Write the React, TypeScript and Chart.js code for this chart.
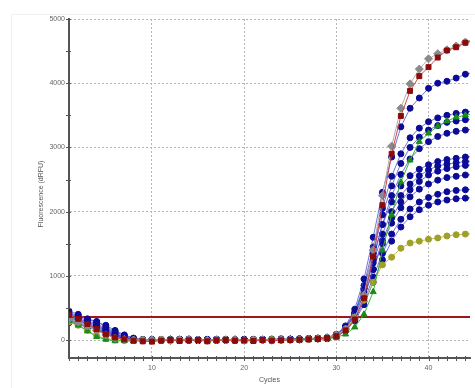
import React, { useEffect, useRef } from "react";
import { Chart, registerables } from "chart.js";

Chart.register(...registerables);

const cycles = [
  1, 2, 3, 4, 5, 6, 7, 8, 9, 10, 11, 12, 13, 14, 15, 16, 17, 18, 19, 20, 21, 22, 23,
  24, 25, 26, 27, 28, 29, 30, 31, 32, 33, 34, 35, 36, 37, 38, 39, 40, 41, 42, 43, 44, 45,
];

const xTicks = [10, 20, 30, 40];
const yTicks = [0, 1000, 2000, 3000, 4000, 5000];
const threshold = 360;

const grayWell = [
  330, 280, 220, 150, 80, 30, 10, 0, -5, 5, 0, -10, 5, 10, 0, -5, 5, 0, 10, -5, 0, 5, -5, 10, 0, 5, 15, 20,
  40, 80, 170, 340, 700, 1400, 2250, 3020, 3610, 3990, 4220, 4380, 4460, 4520, 4580, 4640, 4690,
];
const redWell = [
  390, 330, 250, 170, 90, 40, 10, -10, -20, -25, -10, 0, -15, -5, 0, -20, -5, 0, -10, -5, -15, 0, -10, -5, 0, 5, 10, 15,
  30, 60, 150, 320, 650, 1300, 2100, 2900, 3490, 3880, 4110, 4250, 4400, 4510, 4560, 4630, 4680,
];
const greenWell = [
  300, 230, 140, 50, 10, -15, -10, -20, 5, 0, -5, 15, 0, -10, 5, -15, 0, 10, -5, -20, 0, -5, 5, -10, 0, -5, 5, 10,
  20, 40, 90, 200, 400, 750, 1400, 1950, 2460, 2800, 3090, 3220, 3330, 3410, 3470, 3500, 3530,
];
const oliveWell = [
  280, 230, 150, 70, 20, 0, -10, 0, 5, -5, 10, 0, -5, 5, 0, -10, 0, 5, 0, -5, 5, 0, 10, 0, 5, 10, 15, 20,
  30, 70, 170, 360, 620, 900, 1170, 1290, 1430, 1510, 1540, 1570, 1590, 1620, 1640, 1650, 1660,
];
const blue1 = [
  450, 400, 320, 280, 230, 150, 80, 30, 10, 0, 5, -5, 10, 15, 0, -10, 5, 0, -5, 10, 0, 5, 15, 20, 10, 15, 25, 30,
  40, 90, 220, 480, 950, 1600, 2300, 2850, 3320, 3610, 3770, 3920, 4000, 4030, 4080, 4140, 4170,
];
const blue2 = [
  420, 380, 330, 290, 200, 130, 70, 20, 5, 10, 0, -5, 5, 0, -10, 5, 10, 0, 5, -5, 10, 0, 5, 10, 15, 20, 20, 25,
  35, 80, 200, 430, 850, 1450, 2050, 2550, 2900, 3150, 3300, 3400, 3460, 3500, 3530, 3550, 3570,
];
const blue3 = [
  400, 360, 300, 250, 180, 110, 50, 15, 0, -5, 10, 0, -10, 5, 0, 5, -5, 10, 0, 5, 0, 10, 5, 0, 15, 10, 20, 25,
  30, 75, 190, 400, 800, 1350, 1950, 2400, 2750, 3000, 3160, 3270, 3340, 3390, 3410, 3430, 3450,
];
const blue4 = [
  380, 340, 280, 230, 160, 100, 40, 10, -5, 0, 5, 10, 0, -5, 5, 0, 10, -5, 0, 5, 5, 0, 10, 5, 10, 15, 20, 25,
  30, 70, 170, 370, 720, 1250, 1800, 2250, 2580, 2820, 2980, 3090, 3170, 3220, 3250, 3270, 3290,
];
const blue5 = [
  360, 320, 270, 210, 150, 90, 40, 10, 0, 5, -5, 0, 10, 0, 5, -5, 0, 5, 10, 0, -5, 5, 0, 10, 5, 15, 20, 30,
  35, 80, 200, 420, 800, 1300, 1800, 2150, 2400, 2560, 2660, 2730, 2780, 2810, 2830, 2850, 2860,
];
const blue6 = [
  340, 300, 250, 200, 130, 80, 30, 5, 0, -5, 0, 5, -5, 10, 0, 5, 0, -5, 5, 10, 0, 5, 10, 5, 10, 15, 20, 25,
  30, 70, 180, 380, 720, 1200, 1650, 2000, 2250, 2430, 2560, 2650, 2710, 2740, 2760, 2780, 2790,
];
const blue7 = [
  320, 290, 240, 180, 120, 70, 25, 5, -5, 0, 10, 0, 5, -5, 0, 10, 5, 0, -5, 0, 5, 10, 0, 5, 10, 10, 15, 20,
  25, 60, 160, 350, 650, 1100, 1550, 1900, 2150, 2340, 2470, 2570, 2630, 2670, 2700, 2720, 2730,
];
const blue8 = [
  310, 270, 220, 170, 110, 60, 20, 0, 5, -5, 0, 5, 0, 10, -5, 0, 5, 10, 0, 5, -5, 0, 5, 10, 5, 15, 20, 25,
  30, 70, 170, 360, 680, 1100, 1500, 1820, 2060, 2230, 2350, 2430, 2490, 2530, 2550, 2570, 2580,
];
const blue9 = [
  290, 260, 210, 160, 100, 50, 15, 0, -5, 5, 0, -5, 10, 0, 5, 0, -5, 5, 0, 10, 5, 0, 5, 0, 10, 10, 15, 20,
  25, 60, 150, 320, 600, 980, 1350, 1650, 1880, 2040, 2150, 2220, 2270, 2310, 2330, 2340, 2350,
];
const blue10 = [
  270, 240, 200, 150, 90, 45, 10, -5, 0, 5, -5, 0, 5, 0, -10, 5, 0, 5, -5, 0, 10, 5, 0, 5, 5, 10, 15, 20,
  20, 55, 140, 300, 550, 900, 1250, 1540, 1760, 1920, 2030, 2100, 2150, 2180, 2200, 2210, 2220,
];

const blueWells = [blue1, blue2, blue3, blue4, blue5, blue6, blue7, blue8, blue9, blue10];

const toPoints = (vals: number[]) => cycles.map((c, i) => ({ x: c, y: vals[i] }));

const FONT = "'Liberation Sans', Arial, sans-serif";

const decor = {
  id: "decor",
  beforeDraw(chart: any) {
    const ctx = chart.ctx;
    ctx.save();
    ctx.fillStyle = "#ffffff";
    ctx.fillRect(0, 0, chart.width, chart.height);
    ctx.strokeStyle = "#f0f0f0";
    ctx.lineWidth = 1;
    ctx.strokeRect(11.5, 14.5, chart.width + 20, chart.height + 20);
    ctx.restore();
  },
  afterDraw(chart: any) {
    const { ctx, chartArea } = chart;
    const xs = chart.scales.x;
    const ys = chart.scales.y;
    ctx.save();
    ctx.strokeStyle = "#555";
    ctx.lineWidth = 1;
    ctx.beginPath();
    for (let c = 1; c <= 44; c++) {
      const px = Math.round(xs.getPixelForValue(c)) + 0.5;
      ctx.moveTo(px, chartArea.bottom - 2);
      ctx.lineTo(px, chartArea.bottom + 3);
    }
    for (let v = 0; v <= 5000; v += 500) {
      const py = Math.round(ys.getPixelForValue(v)) + 0.5;
      ctx.moveTo(chartArea.left - 3, py);
      ctx.lineTo(chartArea.left + 2, py);
    }
    ctx.stroke();

    ctx.fillStyle = "#555";
    ctx.font = `7px ${FONT}`;
    ctx.textAlign = "center";
    ctx.textBaseline = "middle";
    ctx.fillText("Cycles", (chartArea.left + chartArea.right) / 2, 380);
    ctx.translate(41, 194);
    ctx.rotate(-Math.PI / 2);
    ctx.fillText("Fluorescence (dRFU)", 0, 0);
    ctx.restore();
  },
};

export default function App() {
  const ref = useRef<HTMLCanvasElement | null>(null);

  useEffect(() => {
    if (!ref.current) return;
    const blueSets = blueWells.map((w, i) => ({
      label: `Blue ${i + 1}`,
      data: toPoints(w),
      borderColor: "rgba(70,70,200,0.75)",
      backgroundColor: "#0b0b96",
      pointBorderColor: "#0b0b96",
      pointBackgroundColor: "#0b0b96",
      pointStyle: "circle",
      pointRadius: 3,
      borderWidth: 1,
    }));
    const chart = new Chart(ref.current, {
      type: "line",
      data: {
        datasets: [
          {
            label: "Red",
            data: toPoints(redWell),
            borderColor: "#d04848",
            backgroundColor: "#8b0a0a",
            pointBorderColor: "#8b0a0a",
            pointBackgroundColor: "#8b0a0a",
            pointStyle: "rect",
            pointRadius: 3.5,
            borderWidth: 1,
          },
          {
            label: "Gray",
            data: toPoints(grayWell),
            borderColor: "#b0b0b0",
            backgroundColor: "#8a8a8a",
            pointBorderColor: "#8a8a8a",
            pointBackgroundColor: "#8a8a8a",
            pointStyle: "rectRot",
            pointRadius: 4,
            borderWidth: 1,
          },
          {
            label: "Green",
            data: toPoints(greenWell),
            borderColor: "#3cb43c",
            backgroundColor: "#198c19",
            pointBorderColor: "#198c19",
            pointBackgroundColor: "#198c19",
            pointStyle: "triangle",
            pointRadius: 3.5,
            borderWidth: 1,
          },
          {
            label: "Olive",
            data: toPoints(oliveWell),
            borderColor: "#c2c250",
            backgroundColor: "#a0a028",
            pointBorderColor: "#a0a028",
            pointBackgroundColor: "#a0a028",
            pointStyle: "circle",
            pointRadius: 3,
            borderWidth: 1,
          },
          ...blueSets,
          {
            label: "Threshold",
            data: [
              { x: 1, y: threshold },
              { x: 45, y: threshold },
            ],
            borderColor: "#a01818",
            borderWidth: 2,
            pointRadius: 0,
          },
        ] as any,
      },
      options: {
        animation: false,
        responsive: false,
        devicePixelRatio: 1,
        layout: { padding: { top: 19, left: 0, right: 0, bottom: 0 } },
        plugins: {
          legend: { display: false },
          tooltip: { enabled: false },
          title: { display: false },
        },
        elements: { line: { tension: 0 } },
        scales: {
          x: {
            type: "linear",
            min: 1,
            max: 44.5,
            afterFit: (s: any) => {
              s.height = 30;
            },
            ticks: {
              stepSize: 10,
              includeBounds: false,
              padding: 6,
              color: "#666",
              font: { size: 7, family: FONT },
              maxRotation: 0,
              callback: (v: any) => String(v),
            },
            afterBuildTicks: (s: any) => {
              s.ticks = xTicks.map((v) => ({ value: v }));
            },
            grid: {
              drawTicks: false,
              color: "#b4b4b4",
              lineWidth: 1,
            },
            border: { display: true, color: "#555", width: 2, dash: [2, 2] },
          },
          y: {
            type: "linear",
            min: -280,
            max: 5000,
            afterFit: (s: any) => {
              s.width = 69;
            },
            afterBuildTicks: (s: any) => {
              s.ticks = yTicks.map((v) => ({ value: v }));
            },
            ticks: {
              stepSize: 1000,
              includeBounds: false,
              padding: 4,
              color: "#666",
              font: { size: 7, family: FONT },
              callback: (v: any) => String(v),
            },
            grid: {
              drawTicks: false,
              color: "#b4b4b4",
              lineWidth: 1,
            },
            border: { display: true, color: "#555", width: 2, dash: [2, 2] },
          },
        },
      },
      plugins: [decor],
    });
    return () => chart.destroy();
  }, []);

  return (
    <div style={{ position: "fixed", left: 0, top: 0, width: 475, height: 388, background: "#fff" }}>
      <canvas ref={ref} width={475} height={388} style={{ width: 475, height: 388, display: "block" }} />
    </div>
  );
}
